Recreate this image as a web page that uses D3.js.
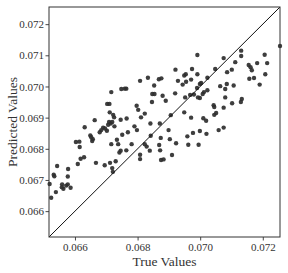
<!DOCTYPE html>
<html>
<head>
<meta charset="utf-8">
<script src="https://cdn.jsdelivr.net/npm/d3@7"></script>
<style>
body { margin: 0; background: #fff; }
</style>
</head>
<body>
<script>
// true vs predicted values
var trueValues = [
  0.07255,0.07131,0.07131,0.07206,0.06991,0.07075,0.07112,0.07155,0.07161,0.07165,
  0.07182,0.07214,0.07048,0.07101,0.07086,0.07208,0.07023,0.07157,0.07172,0.07003,
  0.07085,0.07190,0.07064,0.07107,0.06921,0.06974,0.06833,0.06808,0.06868,0.06876,
  0.06954,0.06949,0.06929,0.06955,0.06971,0.06991,0.06999,0.06853,0.06944,0.07080,
  0.07012,0.07023,0.06999,0.07080,0.07043,0.07045,0.07075,0.07102,0.07133,0.07130,
  0.07051,0.07045,0.07010,0.07019,0.06999,0.07020,0.07059,0.07075,0.06990,0.06764,
  0.06847,0.06854,0.06880,0.06920,0.06952,0.06968,0.06980,0.06993,0.07008,0.06846,
  0.06890,0.06797,0.06802,0.06823,0.06811,0.06949,0.06906,0.06765,0.06971,0.06841,
  0.06871,0.06790,0.06798,0.06899,0.06977,0.06959,0.06874,0.06903,0.06842,0.06923,
  0.06823,0.06829,0.06781,0.06869,0.06962,0.06995,0.06839,0.06872,0.06910,0.06808,
  0.06808,0.06875,0.06883,0.06716,0.06748,0.06759,0.06703,0.06710,0.06711,0.06722,
  0.06725,0.06663,0.06746,0.06709,0.06714,0.06706,0.06719,0.06726,0.06631,0.06690,
  0.06696,0.06684,0.06679,0.06702,0.06649,0.06652,0.06657,0.06655,0.06751,0.06769,
  0.06603,0.06614,0.06734,0.06738,0.06716,0.06615,0.06746,0.06742,0.06764,0.06618,
  0.06629,0.06667,0.06712,0.06543,0.06578,0.06532,0.06534,0.06577,0.06609,0.06695,
  0.06730,0.06719,0.06721,0.06519,0.06559,0.06558,0.06563,0.06572,0.06577,0.06586,
  0.06539,0.06524
];
var predictedValues = [
  0.07130,0.07115,0.07098,0.07102,0.07101,0.07091,0.07078,0.07069,0.07062,0.07052,
  0.07075,0.07075,0.07056,0.07054,0.07046,0.07039,0.07028,0.07025,0.07027,0.07011,
  0.07008,0.07006,0.07001,0.07003,0.07054,0.07056,0.07028,0.07018,0.07023,0.07026,
  0.07039,0.07035,0.07018,0.07015,0.07022,0.07039,0.07008,0.07003,0.07006,0.06992,
  0.06982,0.06988,0.06963,0.06965,0.06940,0.06934,0.06932,0.06946,0.06960,0.06950,
  0.06915,0.06909,0.06898,0.06890,0.06857,0.06848,0.06860,0.06868,0.06995,0.06993,
  0.06976,0.06976,0.06970,0.06978,0.06965,0.06973,0.06974,0.06965,0.06976,0.06950,
  0.06954,0.06938,0.06925,0.06913,0.06901,0.06917,0.06908,0.06897,0.06900,0.06881,
  0.06881,0.06872,0.06860,0.06860,0.06851,0.06840,0.06835,0.06831,0.06842,0.06818,
  0.06815,0.06807,0.06815,0.06812,0.06813,0.06813,0.06794,0.06795,0.06780,0.06781,
  0.06767,0.06764,0.06766,0.06982,0.06992,0.06993,0.06944,0.06944,0.06917,0.06909,
  0.06901,0.06892,0.06893,0.06886,0.06881,0.06877,0.06886,0.06872,0.06869,0.06868,
  0.06865,0.06860,0.06853,0.06858,0.06843,0.06837,0.06831,0.06825,0.06845,0.06853,
  0.06822,0.06823,0.06829,0.06815,0.06815,0.06806,0.06794,0.06788,0.06795,0.06768,
  0.06773,0.06755,0.06755,0.06745,0.06735,0.06717,0.06712,0.06711,0.06751,0.06747,
  0.06760,0.06738,0.06726,0.06687,0.06686,0.06677,0.06672,0.06682,0.06686,0.06675,
  0.06661,0.06643
];
var xTicks = [0.066, 0.068, 0.070, 0.072];
var yTicks = [0.066, 0.067, 0.068, 0.069, 0.070, 0.071, 0.072];
var limits = [0.06517, 0.07255];

var data = trueValues.map(function(d, i) { return {t: d, p: predictedValues[i]}; });

var width = 288, height = 273;
var margin = {top: 7, right: 8, bottom: 36, left: 49};
var w = width - margin.left - margin.right;
var h = height - margin.top - margin.bottom;

var x = d3.scaleLinear().domain(limits).range([0, w]);
var y = d3.scaleLinear().domain(limits).range([h, 0]);

var svg = d3.select('body').append('svg')
    .attr('width', width)
    .attr('height', height);

var g = svg.append('g')
    .attr('transform', 'translate(' + margin.left + ',' + margin.top + ')');

var fmt = d3.format('.3f');

var xAxis = g.append('g')
    .attr('transform', 'translate(0,' + h + ')')
    .call(d3.axisBottom(x).tickValues(xTicks).tickFormat(fmt).tickSize(3.5).tickPadding(3));
var yAxis = g.append('g')
    .call(d3.axisLeft(y).tickValues(yTicks).tickFormat(fmt).tickSize(3.5).tickPadding(1.5));

[xAxis, yAxis].forEach(function(a) {
  a.select('.domain').remove();
  a.selectAll('line').attr('stroke', '#333').attr('stroke-width', 0.9);
  a.selectAll('text')
    .attr('fill', '#333')
    .style('font-family', '"Liberation Serif", serif')
    .style('font-size', '11px');
});

// points
g.append('g').selectAll('circle')
    .data(data)
    .enter().append('circle')
    .attr('cx', function(d) { return x(d.t); })
    .attr('cy', function(d) { return y(d.p); })
    .attr('r', 2.2)
    .attr('fill', '#2e2e2e')
    .attr('fill-opacity', 0.92);

// y = x reference line
g.append('line')
    .attr('x1', x(limits[0])).attr('y1', y(limits[0]))
    .attr('x2', x(limits[1])).attr('y2', y(limits[1]))
    .attr('stroke', '#111')
    .attr('stroke-width', 1);

// frame
g.append('rect')
    .attr('x', 0).attr('y', 0)
    .attr('width', w).attr('height', h)
    .attr('fill', 'none')
    .attr('stroke', '#333')
    .attr('stroke-width', 1);

svg.append('text')
    .attr('x', margin.left + w / 2)
    .attr('y', 266)
    .attr('text-anchor', 'middle')
    .attr('fill', '#333')
    .style('font-family', '"Liberation Serif", serif')
    .style('font-size', '13.5px')
    .text('True Values');

svg.append('text')
    .attr('transform', 'translate(17,' + (margin.top + h / 2) + ') rotate(-90)')
    .attr('text-anchor', 'middle')
    .attr('fill', '#333')
    .style('font-family', '"Liberation Serif", serif')
    .style('font-size', '13.5px')
    .text('Predicted Values');
</script>
</body>
</html>
